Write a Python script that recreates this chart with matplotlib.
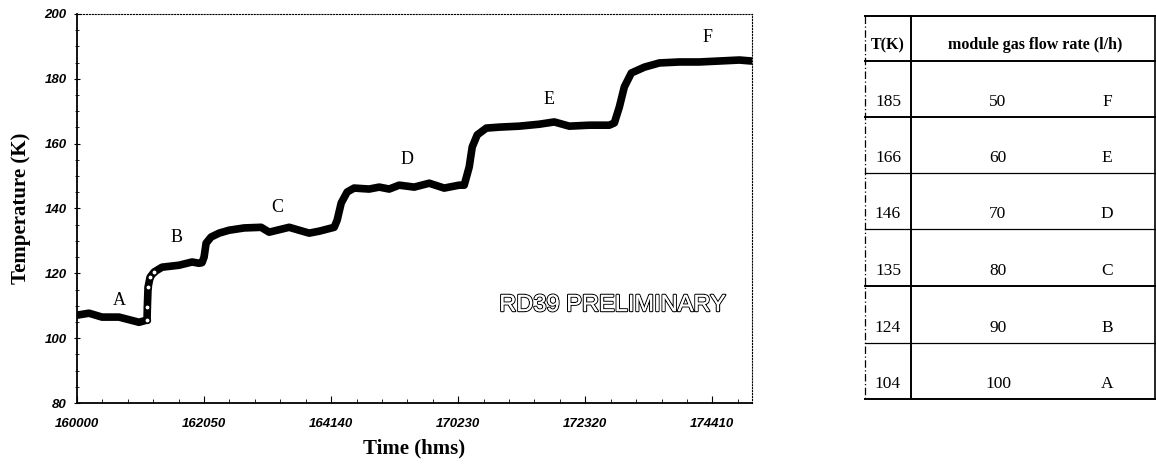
import matplotlib
matplotlib.use("Agg")
import matplotlib.pyplot as plt
import matplotlib.patheffects as pe
from matplotlib.ticker import MultipleLocator, FixedLocator

# ---- data (time in seconds since 16:00:00, temperature in K) ----
time_s = [0, 118, 246, 413, 610, 689, 692, 699, 719, 758, 837, 1004, 1132, 1201,
          1230, 1250, 1270, 1319, 1398, 1496, 1644, 1811, 1890, 2087, 2185, 2284,
          2382, 2530, 2559, 2599, 2658, 2726, 2874, 2973, 3071, 3169, 3317, 3465,
          3612, 3760, 3809, 3858, 3888, 3937, 4026, 4154, 4351, 4547, 4695, 4843,
          5040, 5236, 5286, 5335, 5384, 5453, 5581, 5729, 5926, 6122, 6319, 6516,
          6634]
temp_K = [107.1, 107.7, 106.5, 106.5, 104.9, 105.6, 109.6, 115.7, 118.8, 120.4,
          121.9, 122.5, 123.5, 123.1, 123.3, 125.0, 129.3, 131.2, 132.4, 133.3,
          134.0, 134.2, 132.7, 134.2, 133.3, 132.4, 133.0, 134.2, 136.4, 141.7,
          145.1, 146.3, 146.0, 146.6, 146.0, 147.2, 146.6, 147.8, 146.3, 147.2,
          147.2, 152.8, 159.0, 162.7, 164.8, 165.1, 165.4, 166.0, 166.7, 165.4,
          165.7, 165.7, 166.4, 171.3, 177.5, 181.8, 183.6, 184.9, 185.2, 185.2,
          185.5, 185.8, 185.5]

xtick_pos = [0, 1250, 2500, 3750, 5000, 6250]
xtick_labels = ["160000", "162050", "164140", "170230", "172320", "174410"]

step_labels = ["A", "B", "C", "D", "E", "F"]
step_label_t = [413, 975, 1969, 3248, 4646, 6201]
step_label_T = [111.7, 130.9, 140.4, 155.0, 173.5, 192.9]

table_T = ["185", "166", "146", "135", "124", "104"]
table_flow = ["50", "60", "70", "80", "90", "100"]
table_step = ["F", "E", "D", "C", "B", "A"]

W, H = 1156, 467
fig = plt.figure(figsize=(W / 100, H / 100), dpi=100)

# ---- main plot ----
ax = fig.add_axes([77 / W, 1 - 403 / H, (752 - 77) / W, (403 - 14) / H])
ax.plot(time_s, temp_K, color="black", lw=5.5, solid_capstyle="round",
        solid_joinstyle="round", zorder=3)
ax.plot(time_s[5:10], temp_K[5:10], ls="none", marker="o", ms=4,
        mfc="white", mec="black", mew=1.2, zorder=4)
ax.set_xlim(0, 6640)
ax.set_ylim(80, 200)

ax.xaxis.set_major_locator(FixedLocator(xtick_pos))
ax.set_xticklabels(xtick_labels)
ax.xaxis.set_minor_locator(MultipleLocator(250))
ax.yaxis.set_major_locator(MultipleLocator(20))
ax.yaxis.set_minor_locator(MultipleLocator(5))

tick_fp = matplotlib.font_manager.FontProperties(family="Liberation Sans",
                                                 weight="bold", style="italic",
                                                 size=9.5)
for lab in ax.get_xticklabels() + ax.get_yticklabels():
    lab.set_fontproperties(tick_fp)
ax.tick_params(axis="x", which="major", direction="in", length=5, width=0.8, pad=11)
ax.tick_params(axis="x", which="minor", direction="in", length=3, width=0.6)
ax.tick_params(axis="y", which="major", direction="inout", length=5, width=0.8, pad=5)
ax.tick_params(axis="y", which="minor", direction="inout", length=3, width=0.6)

for side in ("top", "right"):
    ax.spines[side].set_linestyle(":")
    ax.spines[side].set_linewidth(0.8)
for side in ("left", "bottom"):
    ax.spines[side].set_linewidth(1.3)

ax.set_ylabel("Temperature (K)", family="Liberation Serif", weight="bold",
              size=15, labelpad=10)
ax.set_xlabel("Time (hms)", family="Liberation Serif", weight="bold",
              size=15, labelpad=6)

for lab, tx, ty in zip(step_labels, step_label_t, step_label_T):
    ax.text(tx, ty, lab, family="Liberation Serif", size=13,
            ha="center", va="center")

ax.text(5266, 110.2, "RD39 PRELIMINARY", family="Liberation Sans", size=17,
        color="white", ha="center", va="center",
        path_effects=[pe.withStroke(linewidth=1.6, foreground="black"),
                      pe.Normal()])

# ---- table drawn in pixel coordinates ----
tab = fig.add_axes([0, 0, 1, 1])
tab.set_xlim(0, W)
tab.set_ylim(H, 0)
tab.axis("off")
tab.patch.set_alpha(0)

x_left, x_div, x_right = 865, 911, 1155
rows_y = [16, 61, 117, 173, 229, 286, 343, 399]
for i, y in enumerate(rows_y):
    lw = 1.4 if i in (0, 1, 2, 5, 7) else 0.9
    tab.plot([x_left, x_right], [y, y], color="black", lw=lw)
tab.plot([x_left, x_left], [rows_y[0], rows_y[-1]], color="black", lw=0.9,
         ls=(0, (6, 2, 1, 2)))
tab.plot([x_div, x_div], [rows_y[0], rows_y[-1]], color="black", lw=1.4)
tab.plot([x_right, x_right], [rows_y[0], rows_y[-1]], color="black", lw=1.2)

serif = "Liberation Serif"
tab.text(888, 45, "T(K)", family=serif, weight="bold", size=11.5,
         ha="center", va="center")
tab.text(1035, 45, "module gas flow rate (l/h)", family=serif, weight="bold",
         size=11.5, ha="center", va="center")
for i in range(len(table_T)):
    yb = rows_y[i + 2] - 15
    tab.text(888, yb, table_T[i], family=serif, size=12.5, ha="center", va="center")
    tab.text(998, yb, table_flow[i], family=serif, size=12.5, ha="center", va="center")
    tab.text(1107, yb, table_step[i], family=serif, size=12.5, ha="center", va="center")

fig.savefig("out.png", dpi=100)
